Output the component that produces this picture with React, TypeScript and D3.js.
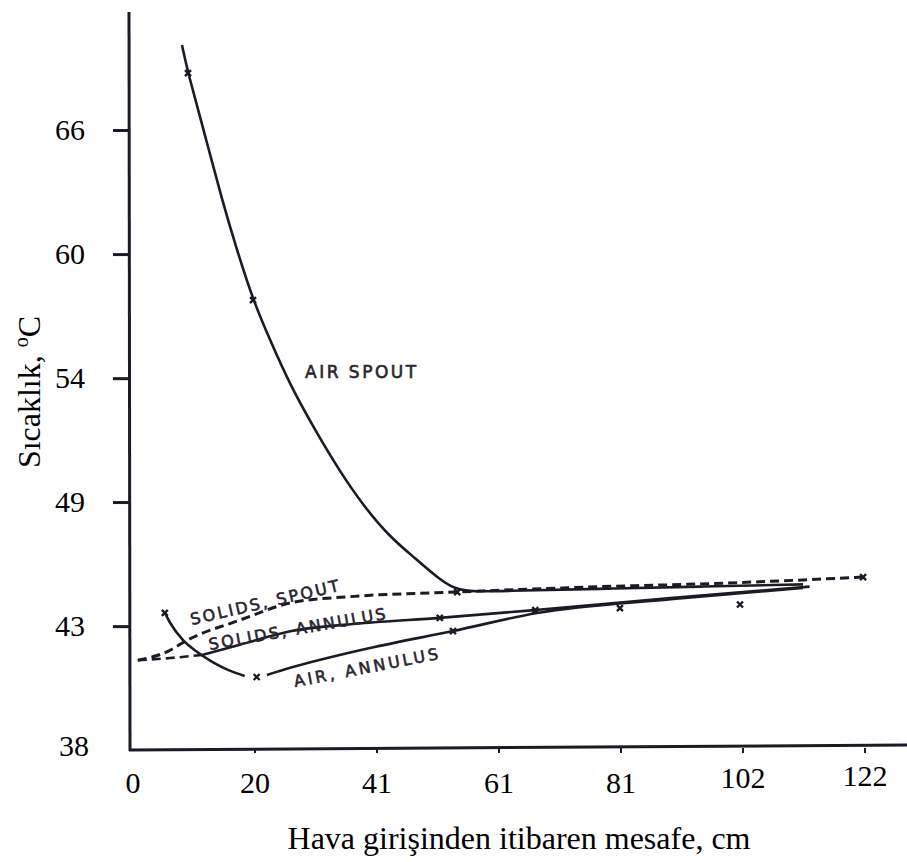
import React, { useEffect, useRef } from "react";
import * as d3 from "d3";

interface Pt {
  x: number; // cm from air inlet
  y: number; // temperature, °C
}

// axis ticks (originally 8 in / 10 °F steps, labelled in cm / °C)
const xTickValues = [0, 20.32, 40.64, 60.96, 81.28, 101.6, 121.92];
const xTickLabels = ["0", "20", "41", "61", "81", "102", "122"];
const yTickValues = [37.78, 43.33, 48.89, 54.44, 60.0, 65.56];
const yTickLabels = ["38", "43", "49", "54", "60", "66"];

// traced curves
const airSpout: Pt[] = [
  { x: 8.16, y: 69.37 }, { x: 9.16, y: 68.11 }, { x: 11.99, y: 65.34 }, { x: 14.82, y: 62.43 },
  { x: 17.32, y: 60.18 }, { x: 19.99, y: 57.94 }, { x: 22.82, y: 56.15 }, { x: 26.15, y: 54.14 },
  { x: 30.31, y: 52.12 }, { x: 34.48, y: 50.24 }, { x: 38.64, y: 48.63 }, { x: 42.81, y: 47.32 },
  { x: 46.97, y: 46.38 }, { x: 51.13, y: 45.4 }, { x: 53.96, y: 44.95 }, { x: 57.0, y: 44.88 },
  { x: 61.1, y: 44.9 }, { x: 77.8, y: 45.0 }, { x: 94.4, y: 45.1 }, { x: 111.6, y: 45.2 },
];
const airSpoutMarks: Pt[] = [
  { x: 9.16, y: 68.11 }, { x: 19.99, y: 57.94 }, { x: 54.0, y: 44.85 },
];

const solidsSpout: Pt[] = [
  { x: 0.8, y: 41.8 }, { x: 5.8, y: 42.2 }, { x: 9.0, y: 42.7 }, { x: 17.8, y: 43.6 },
  { x: 26.7, y: 44.4 }, { x: 36.1, y: 44.65 }, { x: 54.0, y: 44.86 }, { x: 77.8, y: 45.1 },
  { x: 94.4, y: 45.22 }, { x: 111.6, y: 45.4 }, { x: 121.6, y: 45.53 },
];
const solidsSpoutMarks: Pt[] = [{ x: 121.6, y: 45.53 }];

const solidsAnnulusDash: Pt[] = [
  { x: 0.8, y: 41.8 }, { x: 6.2, y: 41.9 }, { x: 11.5, y: 42.04 },
];
const solidsAnnulus: Pt[] = [
  { x: 11.5, y: 42.04 }, { x: 17.8, y: 42.5 }, { x: 26.2, y: 43.1 }, { x: 37.8, y: 43.45 },
  { x: 51.1, y: 43.7 }, { x: 67.0, y: 44.05 }, { x: 90.0, y: 44.6 }, { x: 112.7, y: 45.1 },
];
const solidsAnnulusMarks: Pt[] = [{ x: 51.1, y: 43.7 }, { x: 67.0, y: 44.05 }];

const airAnnulusDrop: Pt[] = [
  { x: 5.3, y: 43.92 }, { x: 6.2, y: 43.47 }, { x: 8.3, y: 42.71 }, { x: 10.7, y: 42.17 },
  { x: 13.2, y: 41.73 }, { x: 15.8, y: 41.37 }, { x: 18.6, y: 41.1 },
];
const airAnnulusRise: Pt[] = [
  { x: 22.3, y: 41.14 }, { x: 26.2, y: 41.46 }, { x: 39.5, y: 42.35 }, { x: 53.3, y: 43.11 },
  { x: 67.3, y: 43.92 }, { x: 90.0, y: 44.55 }, { x: 111.6, y: 45.04 },
];
const airAnnulusMarks: Pt[] = [
  { x: 5.3, y: 43.92 }, { x: 20.6, y: 41.05 }, { x: 53.3, y: 43.11 },
  { x: 81.1, y: 44.14 }, { x: 101.1, y: 44.3 },
];

// curve labels: text, anchor (cm, °C), rotation
const labelTexts = ["AIR SPOUT", "SOLIDS, SPOUT", "SOLIDS, ANNULUS", "AIR, ANNULUS"];
const labelAnchors: Pt[] = [
  { x: 28.65, y: 54.45 }, { x: 9.8, y: 43.38 }, { x: 12.8, y: 42.26 }, { x: 27.0, y: 40.6 },
];
const labelAngles = [0, -13, -10, -11];

const W = 907;
const H = 862;
const ink = "#1c1a24";
const serif = "'Liberation Serif', 'Times New Roman', serif";

const App: React.FC = () => {
  const svgRef = useRef<SVGSVGElement>(null);

  useEffect(() => {
    if (!svgRef.current) return;
    const svg = d3.select(svgRef.current);
    svg.selectAll("*").remove();

    const xScale = d3.scaleLinear().domain([0, 121.92]).range([133, 865]);
    const yScale = d3.scaleLinear().domain([37.78, 65.56]).range([750, 130]);

    // y axis
    const yAxis = svg.append("g")
      .attr("transform", "translate(129,0)")
      .call(
        d3.axisLeft(yScale)
          .tickValues(yTickValues.slice(1))
          .tickSize(16)
          .tickPadding(28)
          .tickFormat((_, i) => yTickLabels[i + 1])
      );
    yAxis.select(".domain").remove();
    yAxis.selectAll("line").attr("stroke", ink).attr("stroke-width", 3);
    yAxis.selectAll("text")
      .attr("font-family", serif)
      .attr("font-size", 30)
      .attr("fill", "#000");
    svg.append("text")
      .attr("x", 89).attr("y", 756)
      .attr("text-anchor", "end")
      .attr("font-family", serif).attr("font-size", 30)
      .text(yTickLabels[0]);

    svg.append("line")
      .attr("x1", 129).attr("x2", 130)
      .attr("y1", 12).attr("y2", 751)
      .attr("stroke", ink).attr("stroke-width", 3);

    // x axis
    svg.append("line")
      .attr("x1", 129).attr("x2", W)
      .attr("y1", 750).attr("y2", 745)
      .attr("stroke", ink).attr("stroke-width", 3);
    svg.append("g")
      .selectAll("line")
      .data(xTickValues.slice(1))
      .join("line")
      .attr("x1", d => xScale(d)).attr("x2", d => xScale(d))
      .attr("y1", 748).attr("y2", 753)
      .attr("stroke", ink).attr("stroke-width", 2);
    svg.append("g")
      .selectAll("text")
      .data(xTickValues)
      .join("text")
      .attr("x", d => xScale(d))
      .attr("y", (_, i) => (i >= 5 ? 790 - (i - 4) * 2 : 793))
      .attr("text-anchor", "middle")
      .attr("font-family", serif)
      .attr("font-size", 30)
      .text((_, i) => xTickLabels[i]);

    // axis titles
    svg.append("text")
      .attr("x", 519).attr("y", 849)
      .attr("text-anchor", "middle")
      .attr("font-family", serif).attr("font-size", 32)
      .text("Hava girişinden itibaren mesafe, cm");

    const yt = svg.append("text")
      .attr("transform", "translate(40,392) rotate(-90)")
      .attr("text-anchor", "middle")
      .attr("font-family", serif).attr("font-size", 32);
    yt.append("tspan").text("Sıcaklık, ");
    yt.append("tspan").attr("font-size", 20).attr("dy", -12).text("o");
    yt.append("tspan").attr("dy", 12).text("C");

    // curves
    const lineGen = (curve: d3.CurveFactory) =>
      d3.line<Pt>()
        .x(d => xScale(d.x))
        .y(d => yScale(d.y))
        .curve(curve);

    const drawLine = (data: Pt[], dashed: boolean, width = 2.6, curve: d3.CurveFactory = d3.curveMonotoneX) => {
      svg.append("path")
        .datum(data)
        .attr("fill", "none")
        .attr("stroke", ink)
        .attr("stroke-width", width)
        .attr("stroke-linecap", "butt")
        .attr("stroke-dasharray", dashed ? "9,5" : null)
        .attr("d", lineGen(curve));
    };

    drawLine(airSpout, false, 2.6, d3.curveBasis);
    drawLine(solidsSpout, true, 3);
    drawLine(solidsAnnulusDash, true);
    drawLine(solidsAnnulus, false);
    drawLine(airAnnulusDrop, false);
    drawLine(airAnnulusRise, false);

    const marks = [
      ...airSpoutMarks, ...solidsSpoutMarks, ...solidsAnnulusMarks, ...airAnnulusMarks,
    ];
    svg.append("g")
      .selectAll("path")
      .data(marks)
      .join("path")
      .attr("transform", d => `translate(${xScale(d.x)},${yScale(d.y)})`)
      .attr("d", "M-3,-3L3,3M-3,3L3,-3")
      .attr("stroke", ink)
      .attr("stroke-width", 2.4)
      .attr("fill", "none");

    // curve labels
    svg.append("g")
      .selectAll("text")
      .data(labelTexts)
      .join("text")
      .attr("transform", (_, i) =>
        `translate(${xScale(labelAnchors[i].x)},${yScale(labelAnchors[i].y)}) rotate(${labelAngles[i]})`)
      .attr("font-family", "'DejaVu Sans', sans-serif")
      .attr("font-size", (_, i) => (i === 0 ? 17 : 16))
      .attr("letter-spacing", (_, i) => (i === 0 ? 2.5 : i === 3 ? 3 : 2.4))
      .attr("fill", "#2a2530")
      .attr("stroke", "#2a2530")
      .attr("stroke-width", 0.6)
      .text(d => d);
  }, []);

  return (
    <svg
      ref={svgRef}
      width={W}
      height={H}
      style={{ position: "absolute", left: 0, top: 0, background: "#fff", display: "block" }}
    />
  );
};

export default App;
